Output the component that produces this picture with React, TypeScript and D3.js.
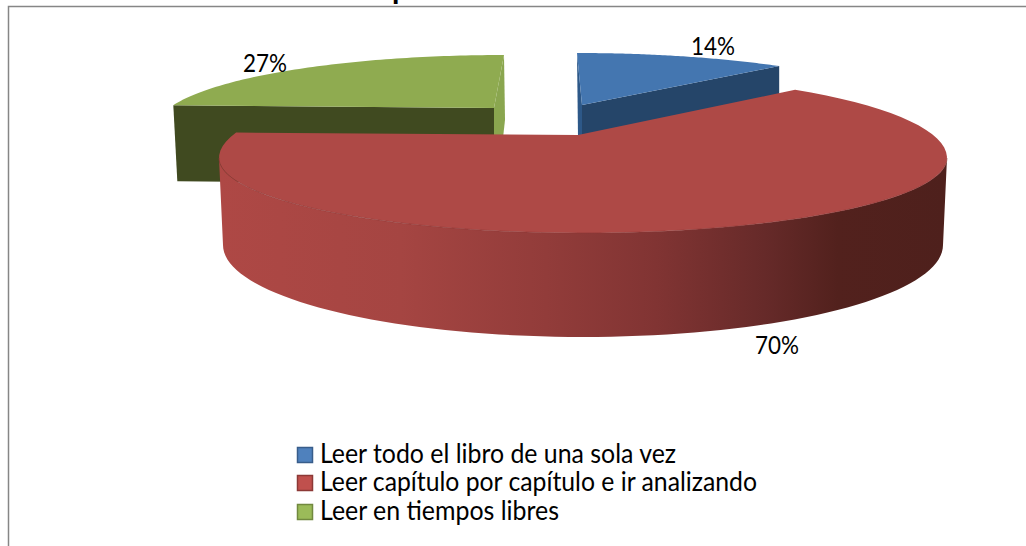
import React from "react";
import * as d3 from "d3";

// Data
const categories = [
  "Leer todo el libro de una sola vez",
  "Leer capítulo por capítulo e ir analizando",
  "Leer en tiempos libres",
];
// Printed labels (as shown, they do not sum to 100)
const printedPercent = [14, 70, 27];
// Slice sweep (% of the circle)
const sweepShare = [9.9, 70, 20.1];

// Styles
const FONT = "Lato, Carlito, 'Open Sans', sans-serif";
const legendFill = ["#4F81BD", "#C0504D", "#9BBB59"];
const legendStroke = ["#385D8A", "#8C3836", "#71893F"];
const topFill = ["#4476B0", "#AE4946", "#8FAB50"];
const cutFill = ["#254569", "", "#404A20"];
const sliverFill = ["#2D5888", "", "#8AA64F"];

// Layout: 3D geometry for each exploded slice
const sliceGeom = [
  { cx: 577, cy: 123, rx: 347, ryBack: 70, ryFront: 70, apex: [582, 105], depth: 32 },
  { cx: 583, cy: 158, rx: 364, ryBack: 84, ryFront: 75, apex: [578, 135], depth: 0 },
  { cx: 504, cy: 127, rx: 347, ryBack: 72, ryFront: 72, apex: [494, 108], depth: 76 },
];
const redBase = { cx: 583, cy: 245, rx: 360, ry: 92 };
const labelPos = [
  { x: 713, y: 55 },
  { x: 777, y: 354 },
  { x: 265, y: 72 },
];
const legendY = [455, 483, 512];
const legendWidth = [356, 437, 239];

const pieAngles = d3.pie<number>().sort(null).value((d) => d)(sweepShare);
const lineGen = d3.line<[number, number]>();

type G = (typeof sliceGeom)[number];
const pt = (g: G, a: number): [number, number] => [
  g.cx + g.rx * Math.sin(a),
  g.cy - (Math.cos(a) >= 0 ? g.ryBack : g.ryFront) * Math.cos(a),
];
const arcPts = (g: G, a0: number, a1: number): [number, number][] => {
  const n = 80;
  const sc = d3.scaleLinear().domain([0, n]).range([a0, a1]);
  return d3.range(n + 1).map((i) => pt(g, sc(i)));
};
const basePt = (a: number): [number, number] => [
  redBase.cx + redBase.rx * Math.sin(a),
  redBase.cy - redBase.ry * Math.cos(a),
];

export default function App() {
  const [blue, red, green] = pieAngles;
  const gB = sliceGeom[0];
  const gR = sliceGeom[1];
  const gG = sliceGeom[2];

  const sliceTop = (g: G, s: { startAngle: number; endAngle: number }) =>
    lineGen([g.apex as [number, number], ...arcPts(g, s.startAngle, s.endAngle)]) + "Z";

  // blue cut face (apex -> end of arc, extruded)
  const bEnd = pt(gB, blue.endAngle);
  const bCut = lineGen([
    gB.apex as [number, number],
    bEnd,
    [bEnd[0], bEnd[1] + 30],
    [gB.apex[0], gB.apex[1] + 32],
  ]) + "Z";
  const bTopL = pt(gB, blue.startAngle);
  const bSliver = lineGen([
    bTopL,
    gB.apex as [number, number],
    [gB.apex[0], gB.apex[1] + 32],
    [bTopL[0] + 1, gB.apex[1] + 32],
  ]) + "Z";

  // green cut face
  const gStart = pt(gG, green.startAngle);
  const gCut = lineGen([
    gStart,
    gG.apex as [number, number],
    [gG.apex[0], gG.apex[1] + gG.depth],
    [gStart[0] + 4, gStart[1] + gG.depth],
  ]) + "Z";
  const gTopR = pt(gG, green.endAngle);
  const gSliver = lineGen([
    gTopR,
    gG.apex as [number, number],
    [gG.apex[0], gG.apex[1] + 30],
    [gTopR[0] - 1, gG.apex[1] + 30],
    [gTopR[0] + 1, gG.apex[1] + 12],
  ]) + "Z";

  // red outer wall: visible from a=90deg round the front to a=270deg
  const wallTop = arcPts(gR, Math.PI / 2, (3 * Math.PI) / 2);
  const nB = 80;
  const wallBase = d3
    .range(nB + 1)
    .map((i) => basePt((3 * Math.PI) / 2 - (i / nB) * Math.PI));
  const wall = lineGen([...wallTop, ...wallBase]) + "Z";

  return (
    <svg
      width={1026}
      height={546}
      style={{ position: "absolute", left: 0, top: 0, display: "block", background: "#fff" }}
    >
      <defs>
        <linearGradient id="redWall" gradientUnits="userSpaceOnUse" x1={219} x2={947} y1={0} y2={0}>
          <stop offset="0" stopColor="#AE4845" />
          <stop offset="0.25" stopColor="#A54542" />
          <stop offset="0.45" stopColor="#923C3A" />
          <stop offset="0.6" stopColor="#813433" />
          <stop offset="0.75" stopColor="#662A29" />
          <stop offset="0.85" stopColor="#52211D" />
          <stop offset="1" stopColor="#4E201C" />
        </linearGradient>
      </defs>

      {/* clipped title fragment */}
      <text x={392} y={-1} fontFamily={FONT} fontWeight={700} fontSize={30} fill="#000">
        p
      </text>

      {/* frame */}
      <path d="M8.5,546V6.5H1026" fill="none" stroke="#868686" strokeWidth={1.5} />

      {/* blue slice */}
      <path d={bCut} fill={cutFill[0]} />
      <path d={bSliver} fill={sliverFill[0]} />
      <path d={sliceTop(gB, blue)} fill={topFill[0]} />

      {/* green slice */}
      <path d={gCut} fill={cutFill[2]} />
      <path d={gSliver} fill={sliverFill[2]} />
      <path d={sliceTop(gG, green)} fill={topFill[2]} />

      {/* red slice */}
      <path d={wall} fill="url(#redWall)" />
      <path d={sliceTop(gR, red)} fill={topFill[1]} />
      <path d={lineGen(wallTop) ?? ""} fill="none" stroke="#8A3634" strokeWidth={1} strokeOpacity={0.6} />

      {/* data labels */}
      {printedPercent.map((v, i) => (
        <text
          key={i}
          x={labelPos[i].x - 22}
          y={labelPos[i].y}
          fontFamily={FONT}
          fontSize={25}
          textLength={44}
          lengthAdjust="spacingAndGlyphs"
          fill="#000"
        >
          {`${v}%`}
        </text>
      ))}

      {/* legend */}
      {categories.map((c, i) => (
        <g key={c}>
          <rect
            x={297.5}
            y={legendY[i] - 7.5}
            width={15}
            height={15}
            fill={legendFill[i]}
            stroke={legendStroke[i]}
            strokeWidth={1.5}
          />
          <text
            x={320}
            y={legendY[i] + 8}
            fontFamily={FONT}
            fontSize={26}
            textLength={legendWidth[i]}
            lengthAdjust="spacingAndGlyphs"
            fill="#000"
          >
            {c}
          </text>
        </g>
      ))}
    </svg>
  );
}
